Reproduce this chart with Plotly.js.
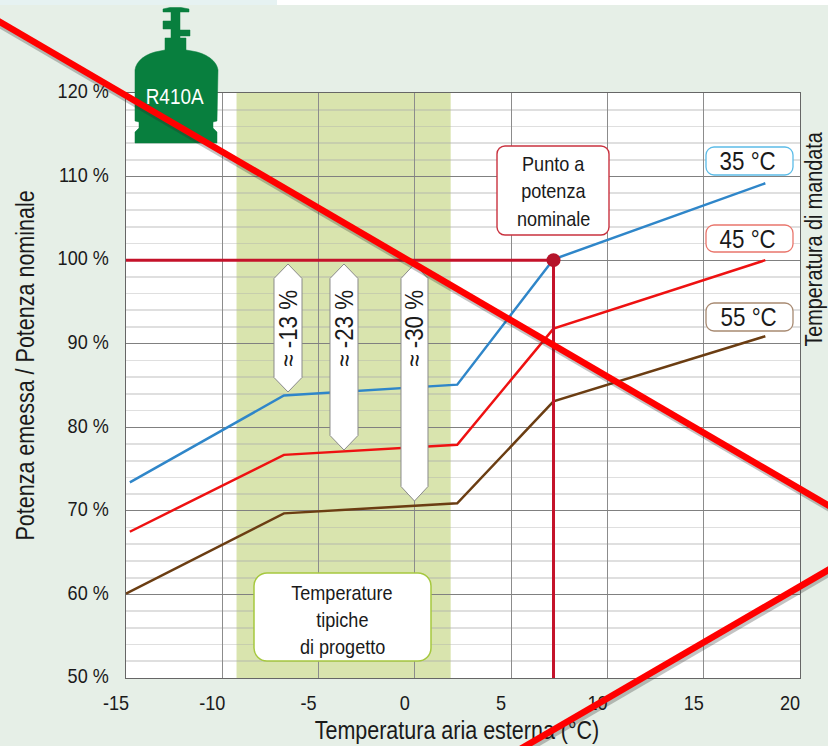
<!DOCTYPE html>
<html><head><meta charset="utf-8">
<script src="https://cdn.plot.ly/plotly-3.0.1.min.js"></script>
<style>html,body{margin:0;padding:0;background:#e6efe7;overflow:hidden}#g{width:828px;height:746px}</style>
</head><body><div id="g"></div>
<script>
const FONT = '"Liberation Sans",Arial,sans-serif';
const temps = [-6.8, 2.2, 7.2, 18.2];
const x35 = [-14.8, ...temps], y35 = [73.4, 83.8, 85.1, 100.1, 109.2];
const x45 = [-14.8, ...temps], y45 = [67.5, 76.7, 77.9, 91.8, 100.0];
const x55 = [-15, ...temps],   y55 = [60.1, 69.7, 70.9, 83.1, 90.9];
const nominalX = [7.2], nominalY = [100];
const designBand = [-9.26, 1.86];
const seriesNames = ['35 °C', '45 °C', '55 °C'];
const seriesColors = ['#2f86c9', '#ee1111', '#6b3d12'];
const xTicks = [-15, -10, -5, 0, 5, 10, 15, 20];
const xTickLabels = ['-15', '-10', '-5', '0', '5', '10', '15', '20'];

const W = 828, H = 746, L = 126, R = 800, T = 93, B = 678;
const X = p => (p - L) / (R - L);
const Y = p => (B - p) / (B - T);
const pt = (x, y) => X(x).toFixed(5) + ',' + Y(y).toFixed(5);
const paperShape = (path, fill, line, lw, layer) => ({type:'path', xref:'paper', yref:'paper', path,
  fillcolor: fill, line:{color: line, width: lw}, layer: layer || 'above'});
function roundBox(x0, y0, x1, y1, r, border, lw) {
  const c = r * 0.45;
  const path = 'M' + pt(x0 + r, y0) + ' L' + pt(x1 - r, y0) +
    ' C' + pt(x1 - c, y0) + ' ' + pt(x1, y0 + c) + ' ' + pt(x1, y0 + r) +
    ' L' + pt(x1, y1 - r) + ' C' + pt(x1, y1 - c) + ' ' + pt(x1 - c, y1) + ' ' + pt(x1 - r, y1) +
    ' L' + pt(x0 + r, y1) + ' C' + pt(x0 + c, y1) + ' ' + pt(x0, y1 - c) + ' ' + pt(x0, y1 - r) +
    ' L' + pt(x0, y0 + r) + ' C' + pt(x0, y0 + c) + ' ' + pt(x0 + c, y0) + ' ' + pt(x0 + r, y0) + ' Z';
  return paperShape(path, '#ffffff', border, lw || 1.3);
}
function tag(x0, x1, y0, y1) {
  const m = (x0 + x1) / 2, s = 14.5;
  return paperShape('M' + pt(m, y0) + ' L' + pt(x1, y0 + s) + ' L' + pt(x1, y1 - s) + ' L' + pt(m, y1) +
    ' L' + pt(x0, y1 - s) + ' L' + pt(x0, y0 + s) + ' Z', '#ffffff', '#8a8a8a', 1);
}
const cylinder = 'M' + [[163,9],[170,7.5],[181,7.5],[189,9],[189,12],[180,12],[180,30],[190,30],[190,36],[180,36],[180,38],[186,38],[186,50]]
    .map(a => pt(a[0], a[1])).join(' L') +
  ' L' + pt(192,51) + ' C' + pt(206,53) + ' ' + pt(217,61) + ' ' + pt(218,70) +
  ' L' + [[217,121],[213,122],[213,128],[217,132],[217,143],[135,143],[135,132],[139,128],[139,122],[135,121],[135,70]].map(a => pt(a[0], a[1])).join(' L') +
  ' C' + pt(136,61) + ' ' + pt(146,53) + ' ' + pt(160,51) +
  ' L' + [[165,50],[165,38],[171,38],[171,29],[163,29],[163,21],[171,21],[171,12],[163,12]].map(a => pt(a[0], a[1])).join(' L') + ' Z';
const bigLine = (x0, y0, x1, y1, c, w) => ({type:'line', xref:'paper', yref:'paper', x0:X(x0), y0:Y(y0), x1:X(x1), y1:Y(y1),
  line:{color:c, width:w}, layer:'above'});

const shapes = [
  {type:'rect', xref:'paper', yref:'paper', x0:X(0), x1:X(277), y0:Y(0), y1:Y(5), fillcolor:'#e6f2f2', line:{width:0}, layer:'below'},
  {type:'rect', xref:'paper', yref:'paper', x0:X(277), x1:X(828), y0:Y(0), y1:Y(5), fillcolor:'#ffffff', line:{width:0}, layer:'below'},
  {type:'rect', xref:'x', yref:'paper', x0:designBand[0], x1:designBand[1], y0:0, y1:1, fillcolor:'#d9e4ae', line:{width:0}, layer:'below'},
  paperShape(cylinder, '#087f3e', '#087f3e', 0.5),
  tag(274, 302, 264, 392), tag(330, 358, 264, 450), tag(401, 428, 264, 501),
  roundBox(254, 573, 431, 661, 13, '#a6c83f', 1.5),
  roundBox(497, 146, 609, 235, 8, '#c9323f', 1.4),
  roundBox(706, 147, 793, 175, 8, '#5cbce8', 1.3),
  roundBox(706, 225, 793, 252, 8, '#e9766c', 1.3),
  roundBox(706, 303, 793, 331, 8, '#a88a72', 1.3),
  bigLine(-20, 13, 848, 519, 'rgba(40,40,40,0.28)', 7),
  bigLine(-22, 9.2, 848, 517, '#ff0000', 6.5),
  bigLine(500, 765, 848, 562, 'rgba(40,40,40,0.28)', 7),
  bigLine(498, 762, 848, 558.5, '#ff0000', 6.5)
];

const note = (px, py, text, size, extra) => Object.assign({xref:'paper', yref:'paper', x:X(px), y:Y(py), text,
  showarrow:false, font:{family:FONT, size, color:'#1a1a1a'}, xanchor:'center', yanchor:'middle'}, extra || {});
const annotations = [
  note(25, 366, 'Potenza emessa / Potenza nominale', 25, {textangle:-90}),
  note(814, 239, 'Temperatura di mandata', 23, {textangle:-90}),
  note(175, 97, 'R410A', 22, {font:{family:FONT, size:22, color:'#ffffff'}}),
  note(288, 329, '≈ -13 %', 26, {textangle:-90}),
  note(344, 329, '≈ -23 %', 26, {textangle:-90}),
  note(414, 329, '≈ -30 %', 26, {textangle:-90}),
  note(342, 592, 'Temperature', 21),
  note(342, 619, 'tipiche', 21),
  note(342, 646, 'di progetto', 21),
  note(553, 163, 'Punto a', 21),
  note(553, 191, 'potenza', 21),
  note(553, 218, 'nominale', 21),
  note(747, 161, seriesNames[0], 26),
  note(747, 239, seriesNames[1], 26),
  note(748, 317, seriesNames[2], 26)
];

const line = (x, y, name, color, width) => ({x, y, name, type:'scatter', mode:'lines', line:{color, width}, hoverinfo:'skip'});
const traces = [
  line(x35, y35, seriesNames[0], seriesColors[0], 2.5),
  line(x45, y45, seriesNames[1], seriesColors[1], 2.5),
  line(x55, y55, seriesNames[2], seriesColors[2], 2.5),
  line([-15, nominalX[0]], [nominalY[0], nominalY[0]], 'Riferimento', '#c4122a', 3),
  line([nominalX[0], nominalX[0]], [50, nominalY[0]], 'Riferimento', '#c4122a', 3),
  {x:nominalX, y:nominalY, name:'Punto a potenza nominale', type:'scatter', mode:'markers', marker:{color:'#b5142a', size:14}, hoverinfo:'skip'}
];

const layout = {
  width:W, height:H, margin:{l:L, r:W-R, t:T, b:H-B, pad:0}, showlegend:false,
  paper_bgcolor:'#e6efe7', plot_bgcolor:'#ffffff',
  font:{family:FONT, size:18, color:'#1a1a1a'},
  xaxis:{range:[-15,20], tickmode:'array', tickvals:xTicks, ticktext:xTickLabels, showgrid:true, gridcolor:'#8c8c8c', gridwidth:1,
    showline:true, linecolor:'#666666', linewidth:1, mirror:true, zeroline:false, ticks:'', ticklabelshift:-10,
    ticklabelstandoff:6, tickfont:{family:FONT, size:21, color:'#1a1a1a'},
    title:{text:'Temperatura aria esterna (°C)', font:{family:FONT, size:25, color:'#1a1a1a'}, standoff:8}},
  yaxis:{range:[50,120], tickmode:'linear', tick0:50, dtick:10, showgrid:true, gridcolor:'#808080', gridwidth:1,
    minor:{dtick:2, showgrid:true, gridcolor:'rgba(170,170,170,0.38)', gridwidth:1.6},
    showline:true, linecolor:'#666666', linewidth:1, mirror:true, zeroline:false, ticks:'', ticksuffix:' %',
    ticklabelstandoff:12, ticklabelshift:-2, tickfont:{family:FONT, size:21, color:'#1a1a1a'}},
  shapes, annotations
};
const CONDENSE = 0.86;
Plotly.newPlot('g', traces, layout, {displayModeBar:false, staticPlot:true}).then(gd => {
  gd.querySelectorAll('svg text').forEach(t => {
    const len = t.getComputedTextLength();
    if (len > 0) { t.setAttribute('textLength', (len * CONDENSE).toFixed(1)); t.setAttribute('lengthAdjust', 'spacingAndGlyphs'); }
  });
  const title = gd.querySelector('.infolayer .g-xtitle');
  const above = gd.querySelector('.layer-above');
  if (title && above) {
    above.parentNode.insertBefore(title, above);
    const t = title.querySelector('text');
    if (t) t.setAttribute('x', parseFloat(t.getAttribute('x')) - 6);
  }
});
</script></body></html>
